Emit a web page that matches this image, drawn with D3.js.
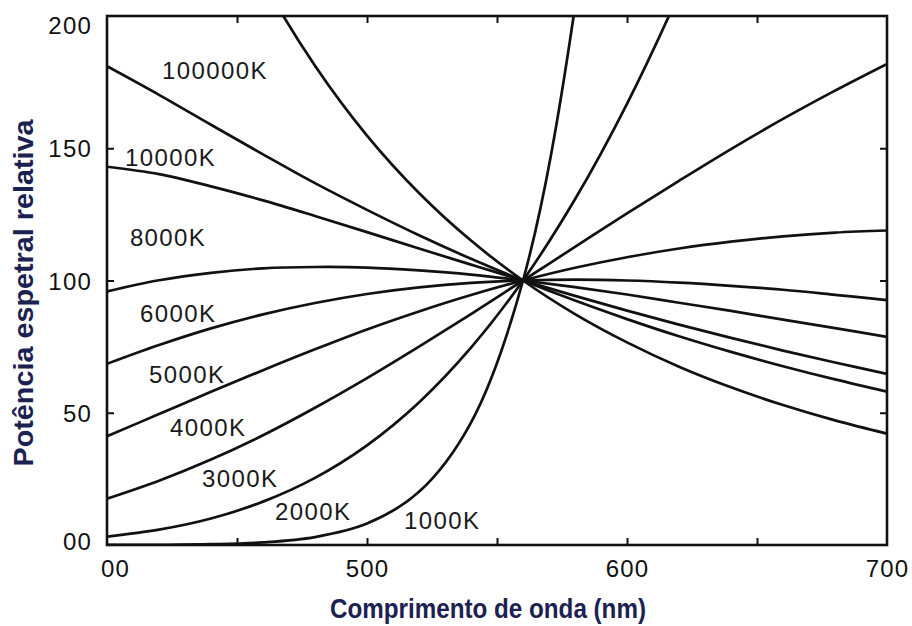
<!DOCTYPE html>
<html>
<head>
<meta charset="utf-8">
<script src="https://cdn.jsdelivr.net/npm/d3@7"></script>
<style>
  body { margin: 0; background: #ffffff; }
  svg { display: block; }
</style>
</head>
<body>
<svg id="chart" width="912" height="626"></svg>
<script>
// Wavelengths (nm) at which each curve is sampled
const wavelengths = [400, 420, 440, 460, 480, 500, 520, 540, 560, 580, 600, 620, 640, 660, 680, 700];

// Relative spectral power of a blackbody at each temperature (100 at 560 nm); null = beyond the plot
const t1000K   = [0.02, 0.08, 0.3, 1.0, 3.0, 8.1, 20.1, 46.3, 100, 203.5, 392.7, null, null, null, null, null];
const t2000K   = [3.2, 5.8, 10.0, 16.4, 25.4, 37.7, 53.9, 74.6, 100, 130.7, 166.8, 208.5, 255.6, null, null, null];
const t3000K   = [17.5, 24.3, 32.3, 41.5, 51.9, 63.1, 75.0, 87.3, 100, 112.7, 125.4, 137.7, 149.7, 161.1, 171.8, 181.9];
const t4000K   = [41.1, 49.5, 57.9, 66.1, 74.0, 81.5, 88.3, 94.5, 100, 104.8, 108.8, 112.1, 114.7, 116.7, 118.1, 118.9];
const t5000K   = [68.5, 75.6, 81.9, 87.2, 91.5, 94.9, 97.4, 99.1, 100, 100.3, 100.0, 99.2, 98.0, 96.5, 94.6, 92.6];
const t6000K   = [95.9, 100.1, 102.9, 104.6, 105.1, 104.9, 103.8, 102.2, 100, 97.5, 94.7, 91.6, 88.5, 85.2, 82.0, 78.7];
const t8000K   = [143.0, 140.2, 135.6, 130.3, 124.4, 118.3, 112.1, 106.0, 100, 94.2, 88.6, 83.3, 78.3, 73.5, 69.0, 64.7];
const t10000K  = [181.0, 170.2, 158.9, 147.7, 136.8, 126.7, 117.1, 108.2, 100, 92.4, 85.4, 78.9, 73.0, 67.6, 62.6, 58.0];
const t100000K = [363.9, 302.1, 252.9, 213.3, 181.2, 154.8, 133.1, 115.1, 100, 87.3, 76.6, 67.4, 59.6, 52.9, 47.1, 42.1];

const seriesNames  = ["1000K", "2000K", "3000K", "4000K", "5000K", "6000K", "8000K", "10000K", "100000K"];
const seriesValues = [t1000K, t2000K, t3000K, t4000K, t5000K, t6000K, t8000K, t10000K, t100000K];

// Where each curve's name is written, in data units [wavelength, relative power] (left edge, baseline)
const labelAnchors = [[514.2, 6.0], [464.6, 9.5], [436.5, 21.9], [424.2, 41.2], [416.2, 61.2],
                      [412.7, 84.3], [408.8, 113.0], [406.9, 143.3], [421.2, 176.2]];

// Axis ticks and their printed labels
const xTickValues = [400, 500, 600, 700];
const xTickLabels = ["00", "500", "600", "700"];
const xMarkValues = [450, 500, 550, 600, 650];
const yTickValues = [0, 50, 100, 150, 200];
const yTickLabels = ["00", "50", "100", "150", "200"];
const yMarkValues = [50, 100, 150];

const xTitle = "Comprimento de onda (nm)";
const yTitle = "Potência espetral relativa";

// ---- layout ----
const W = 912, H = 626;
const margin = { top: 16, right: 25, bottom: 81, left: 107 };
const iw = W - margin.left - margin.right;
const ih = H - margin.top - margin.bottom;

const svg = d3.select("#chart");
svg.append("rect").attr("width", W).attr("height", H).attr("fill", "#fff");

const g = svg.append("g").attr("transform", `translate(${margin.left},${margin.top})`);

const x = d3.scaleLinear().domain([400, 700]).range([0, iw]);
const y = d3.scaleLinear().domain([0, 200]).range([ih, 0]);

const labelFont = "'Liberation Sans', Arial, Helvetica, sans-serif";
const ink = "#111";

svg.append("defs").append("clipPath").attr("id", "plotClip")
  .append("rect").attr("x", 0).attr("y", 0).attr("width", iw).attr("height", ih);

// ---- curves ----
const line = d3.line()
  .defined(d => d[1] !== null)
  .x(d => x(d[0]))
  .y(d => y(d[1]))
  .curve(d3.curveCatmullRom.alpha(0.5));

g.append("g").attr("clip-path", "url(#plotClip)")
  .selectAll("path")
  .data(seriesValues)
  .join("path")
  .attr("d", vals => line(wavelengths.map((w, i) => [w, vals[i]])))
  .attr("fill", "none")
  .attr("stroke", ink)
  .attr("stroke-width", 2.7)
  .attr("stroke-linejoin", "round");

// ---- frame with inward ticks ----
function markAxis(axis, tr) {
  const a = g.append("g").attr("transform", tr).call(axis);
  a.select(".domain").remove();
  a.selectAll("text").remove();
  a.selectAll("line").attr("stroke", ink).attr("stroke-width", 2);
}
markAxis(d3.axisBottom(x).tickValues(xMarkValues).tickSize(-7), `translate(0,${ih})`);
markAxis(d3.axisTop(x).tickValues(xMarkValues).tickSize(-7), `translate(0,0)`);
markAxis(d3.axisLeft(y).tickValues(yMarkValues).tickSize(-7), `translate(0,0)`);
markAxis(d3.axisRight(y).tickValues(yMarkValues).tickSize(-7), `translate(${iw},0)`);

g.append("rect")
  .attr("x", 0).attr("y", 0).attr("width", iw).attr("height", ih)
  .attr("fill", "none").attr("stroke", ink).attr("stroke-width", 2.6);

// ---- tick labels ----
const xLab = g.append("g").attr("transform", `translate(0,${ih})`)
  .call(d3.axisBottom(x).tickValues(xTickValues).tickFormat((d, i) => xTickLabels[i]).tickSize(0).tickPadding(15));
xLab.select(".domain").remove();
xLab.selectAll("text")
  .attr("font-family", labelFont).attr("font-size", 24).attr("letter-spacing", "1.2px")
  .attr("fill", ink)
  .attr("dx", d => d === 400 ? 8 : 0);

const yLab = g.append("g")
  .call(d3.axisLeft(y).tickValues(yTickValues).tickFormat((d, i) => yTickLabels[i]).tickSize(0).tickPadding(15));
yLab.select(".domain").remove();
yLab.selectAll("text")
  .attr("font-family", labelFont).attr("font-size", 24).attr("letter-spacing", "1.2px")
  .attr("fill", ink)
  .attr("dy", d => d === 200 ? "0.72em" : d === 0 ? "0.2em" : "0.36em");

// ---- curve names ----
g.selectAll("text.series")
  .data(seriesNames)
  .join("text")
  .attr("class", "series")
  .attr("x", (d, i) => x(labelAnchors[i][0]))
  .attr("y", (d, i) => y(labelAnchors[i][1]))
  .attr("font-family", labelFont)
  .attr("font-size", 24)
  .attr("letter-spacing", "1.4px")
  .attr("fill", "#1a1a1a")
  .text(d => d);

// ---- axis titles ----
const titleColor = "#1b2150";
svg.append("text")
  .attr("x", margin.left + iw / 2 - 9)
  .attr("y", 618)
  .attr("text-anchor", "middle")
  .attr("font-family", labelFont)
  .attr("font-weight", "bold")
  .attr("font-size", 27)
  .attr("textLength", 316)
  .attr("lengthAdjust", "spacingAndGlyphs")
  .attr("fill", titleColor)
  .text(xTitle);

svg.append("text")
  .attr("transform", `translate(33,${293}) rotate(-90)`)
  .attr("text-anchor", "middle")
  .attr("font-family", labelFont)
  .attr("font-weight", "bold")
  .attr("font-size", 28)
  .attr("textLength", 347)
  .attr("lengthAdjust", "spacingAndGlyphs")
  .attr("fill", titleColor)
  .text(yTitle);
</script>
</body>
</html>
